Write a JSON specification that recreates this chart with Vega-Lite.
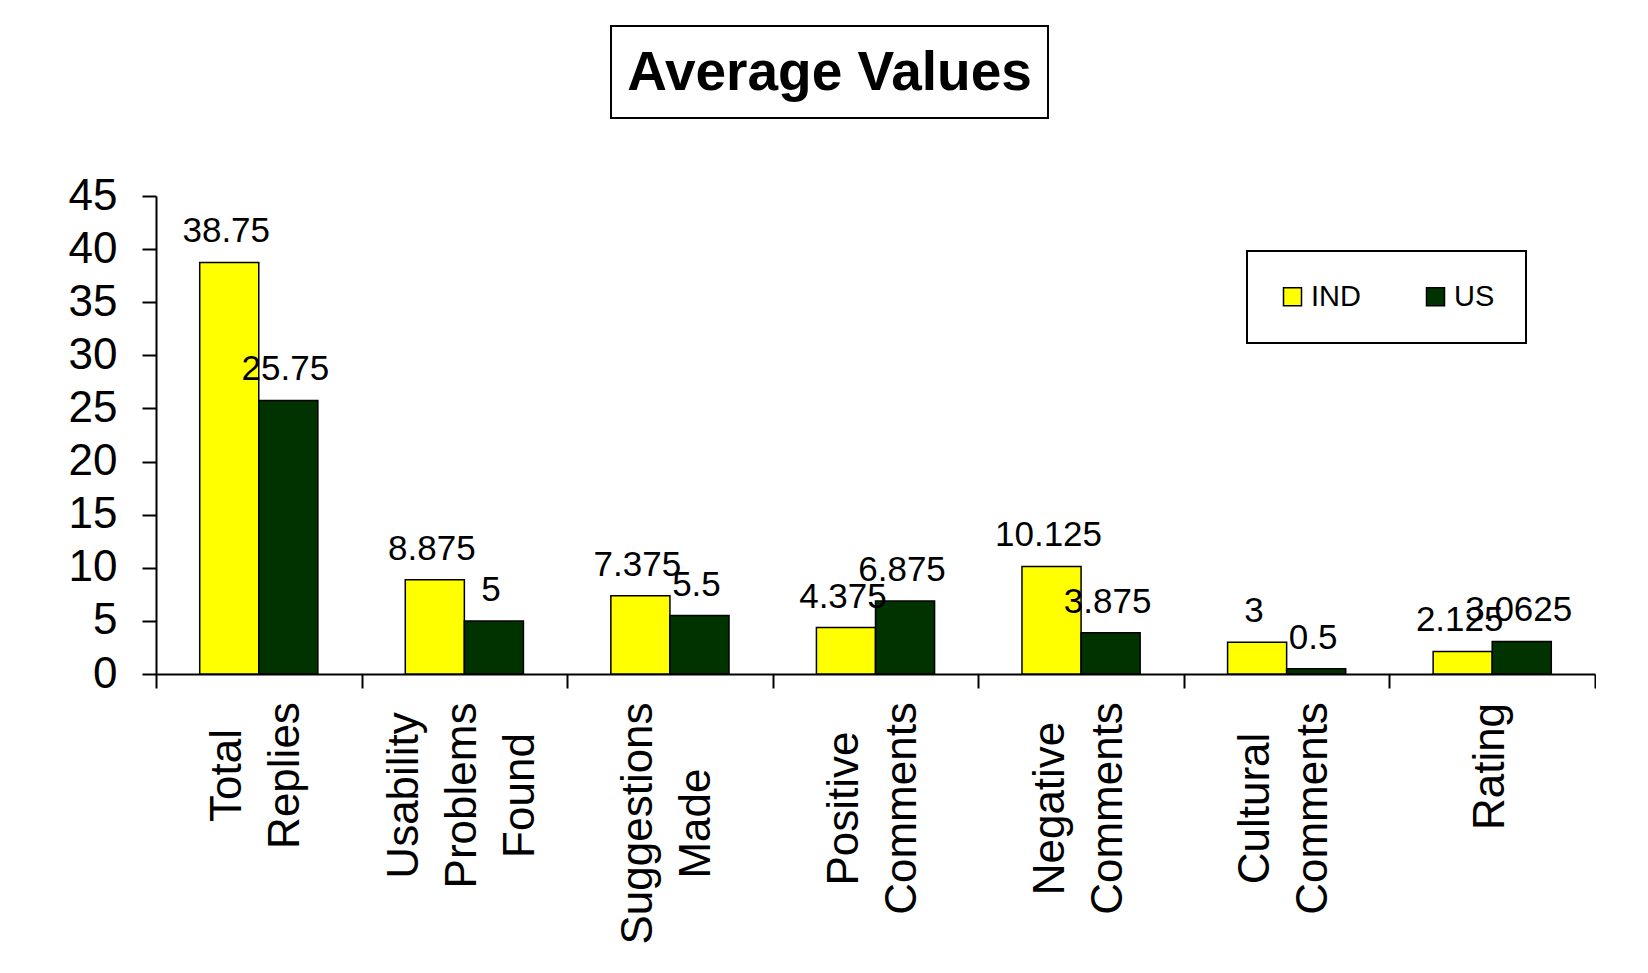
{
  "$schema": "https://vega.github.io/schema/vega-lite/v6.json",
  "autosize": {"type": "pad"},
  "padding": {"left": 68, "top": 25, "right": 0, "bottom": 0},
  "background": "white",
  "spacing": 55,
  "config": {
    "font": "Liberation Sans",
    "view": {"stroke": null},
    "axis": {"domainColor": "black", "tickColor": "black", "labelColor": "black", "domainWidth": 2, "tickWidth": 2, "grid": false, "labelFont": "Liberation Sans"},
    "legend": {"strokeWidth": 2}
  },
  "vconcat": [
    {
      "spacing": 0,
      "hconcat": [
        {
          "width": 454,
          "height": 92,
          "data": {"values": []},
          "mark": {"type": "point", "opacity": 0},
          "encoding": {}
        },
        {
          "width": 437,
          "height": 92,
          "view": {"stroke": "black", "strokeWidth": 2, "fill": "white"},
          "data": {"values": [{"title": "Average Values"}]},
          "mark": {"type": "text", "fontSize": 55, "fontWeight": "bold", "font": "Liberation Sans", "baseline": "alphabetic", "dy": 18, "color": "black"},
          "encoding": {"text": {"field": "title", "type": "nominal"}}
        }
      ]
    },
    {
      "width": 1439,
      "height": 478,
      "data": {"values": [
        {"category": "Total Replies", "country": "IND", "value": 38.75},
        {"category": "Total Replies", "country": "US", "value": 25.75},
        {"category": "Usability Problems Found", "country": "IND", "value": 8.875},
        {"category": "Usability Problems Found", "country": "US", "value": 5},
        {"category": "Suggestions Made", "country": "IND", "value": 7.375},
        {"category": "Suggestions Made", "country": "US", "value": 5.5},
        {"category": "Positive Comments", "country": "IND", "value": 4.375},
        {"category": "Positive Comments", "country": "US", "value": 6.875},
        {"category": "Negative Comments", "country": "IND", "value": 10.125},
        {"category": "Negative Comments", "country": "US", "value": 3.875},
        {"category": "Cultural Comments", "country": "IND", "value": 3},
        {"category": "Cultural Comments", "country": "US", "value": 0.5},
        {"category": "Rating", "country": "IND", "value": 2.125},
        {"category": "Rating", "country": "US", "value": 3.0625}
      ]},
      "encoding": {
        "x": {
          "field": "category", "type": "nominal", "sort": null,
          "scale": {"paddingInner": 0, "paddingOuter": 0},
          "axis": {
            "title": null,
            "tickBand": "extent",
            "tickSize": 14,
            "labelAngle": -90,
            "labelAlign": "center",
            "labelBaseline": "middle",
            "labelFontSize": 44,
            "labelLineHeight": 58,
            "labelLimit": 0,
            "labelOverlap": false,
            "labelBound": false,
            "labelExpr": "split(datum.label, ' ')",
            "labelOffset": {
              "condition": [
                {"test": "datum.value === 'Usability Problems Found'", "value": -60},
                {"test": "datum.value === 'Rating'", "value": -2}
              ],
              "value": -31
            },
            "labelPadding": {
              "condition": [
                {"test": "datum.value === 'Total Replies'", "value": 87},
                {"test": "datum.value === 'Usability Problems Found'", "value": 107},
                {"test": "datum.value === 'Suggestions Made'", "value": 135},
                {"test": "datum.value === 'Rating'", "value": 78}
              ],
              "value": 120
            }
          }
        },
        "xOffset": {"field": "country", "type": "nominal", "scale": {"paddingInner": 0, "paddingOuter": 0.74}},
        "y": {
          "field": "value", "type": "quantitative",
          "scale": {"domain": [0, 45], "nice": false},
          "axis": {"title": null, "values": [0, 5, 10, 15, 20, 25, 30, 35, 40, 45], "tickSize": 14, "labelPadding": 25, "labelFontSize": 44}
        }
      },
      "layer": [
        {
          "mark": {"type": "bar", "stroke": "black", "strokeWidth": 1.5},
          "encoding": {
            "color": {
              "field": "country", "type": "nominal",
              "scale": {"domain": ["IND", "US"], "range": ["#FFFF00", "#003300"]},
              "legend": {
                "orient": "none", "legendX": 1091, "legendY": 225, "direction": "horizontal",
                "title": null, "fillColor": "white", "strokeColor": "black", "padding": 31,
                "symbolType": "square", "symbolSize": 324, "symbolStrokeColor": "black", "symbolStrokeWidth": 1.5,
                "labelFontSize": 29, "labelOffset": 4, "columnPadding": 60, "labelColor": "black", "labelFont": "Liberation Sans"
              }
            }
          }
        },
        {
          "mark": {"type": "text", "fontSize": 35, "baseline": "alphabetic", "dy": -20, "dx": -3, "color": "black", "font": "Liberation Sans"},
          "encoding": {"text": {"field": "value", "type": "nominal"}}
        }
      ]
    }
  ]
}
